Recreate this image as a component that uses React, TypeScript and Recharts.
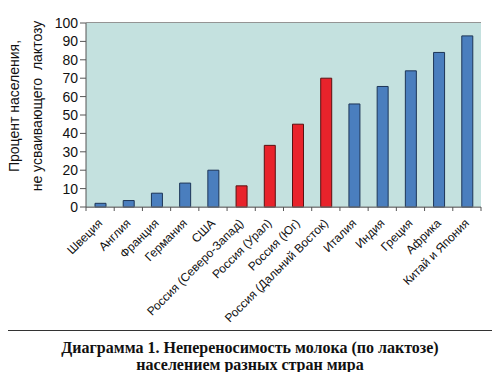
import * as React from "react"
import { BarChart, Bar, XAxis, YAxis, CartesianGrid, Cell } from "recharts"

const countries = [
  "Швеция",
  "Англия",
  "Франция",
  "Германия",
  "США",
  "Россия (Северо-Запад)",
  "Россия (Урал)",
  "Россия (Юг)",
  "Россия (Дальний Восток)",
  "Италия",
  "Индия",
  "Греция",
  "Африка",
  "Китай и Япония",
]
const intolerance = [2, 3.5, 7.5, 13, 20, 11.5, 33.5, 45, 70, 56, 65.5, 74, 84, 93]
const yTicks = [0, 10, 20, 30, 40, 50, 60, 70, 80, 90, 100]

const data = countries.map((name, i) => ({ name, value: intolerance[i] }))

const FONT = "'Liberation Sans', Arial, sans-serif"
const BLUE = "#4a7ebe"
const BLUE_EDGE = "#1d3557"
const RED = "#e8232b"
const RED_EDGE = "#5a1010"

const W = 500
const H = 330
const MARGIN = { top: 23, right: 19, left: 0, bottom: 0 }
const Y_WIDTH = 86
const X_HEIGHT = 123

const plotWidth = W - MARGIN.left - MARGIN.right - Y_WIDTH
const band = plotWidth / countries.length

const XTick = (props: any) => {
  const { x, y, payload, index } = props
  const last = index === countries.length - 1
  const tx = x + 3
  const ty = y + 9
  return (
    <g>
      <line x1={x - band / 2} y1={y - 8} x2={x - band / 2} y2={y - 4} stroke="#555" />
      {last && <line x1={x + band / 2} y1={y - 8} x2={x + band / 2} y2={y - 4} stroke="#555" />}
      <text
        x={tx}
        y={ty}
        textAnchor="end"
        transform={`rotate(-45, ${tx}, ${ty})`}
        fontSize={12}
        fill="#111"
        fontFamily={FONT}
      >
        {payload.value}
      </text>
    </g>
  )
}

const YLabel = () => (
  <g fontFamily={FONT} fontSize={14} fill="#111">
    <text x={19} y={106} textAnchor="middle" transform="rotate(-90, 19, 106)">
      Процент населения,
    </text>
    <text x={42} y={106} textAnchor="middle" transform="rotate(-90, 42, 106)" style={{ whiteSpace: "pre" }}>
      {"не усваивающего  лактозу"}
    </text>
  </g>
)

export default function App() {
  return (
    <div style={{ position: "relative", width: W, height: 380, margin: -8, background: "#fff" }}>
      <div
        style={{
          position: "absolute",
          left: 4,
          top: 6,
          width: 490,
          height: 323,
          border: "1px solid #333",
        }}
      />
      <div style={{ position: "absolute", left: 0, top: 0 }}>
        <BarChart width={W} height={H} data={data} margin={MARGIN} barSize={11}>
          <rect x={Y_WIDTH} y={MARGIN.top} width={plotWidth} height={H - MARGIN.top - X_HEIGHT} fill="#c4e1df" />
          <CartesianGrid vertical={false} stroke="#2b2b2b" strokeWidth={1.2} />
          <XAxis
            dataKey="name"
            interval={0}
            height={X_HEIGHT}
            tick={<XTick />}
            tickLine={false}
            axisLine={{ stroke: "#777" }}
          />
          <YAxis
            width={Y_WIDTH}
            domain={[0, 100]}
            ticks={yTicks}
            interval={0}
            tickSize={6}
            tickLine={{ stroke: "#555" }}
            axisLine={{ stroke: "#555" }}
            tick={{ fontSize: 14, fill: "#111", fontFamily: FONT }}
            label={<YLabel />}
          />
          <Bar dataKey="value" isAnimationActive={false} strokeWidth={1}>
            {data.map((d) => (
              <Cell
                key={d.name}
                fill={d.name.startsWith("Россия") ? RED : BLUE}
                stroke={d.name.startsWith("Россия") ? RED_EDGE : BLUE_EDGE}
              />
            ))}
          </Bar>
        </BarChart>
      </div>
      <div
        style={{
          position: "absolute",
          left: 0,
          top: 339,
          width: W,
          textAlign: "center",
          fontFamily: "'Liberation Serif', 'Times New Roman', serif",
          fontWeight: "bold",
          fontSize: 16,
          lineHeight: "17px",
          color: "#111",
        }}
      >
        Диаграмма 1. Непереносимость молока (по лактозе)
        <br />
        населением разных стран мира
      </div>
    </div>
  )
}
